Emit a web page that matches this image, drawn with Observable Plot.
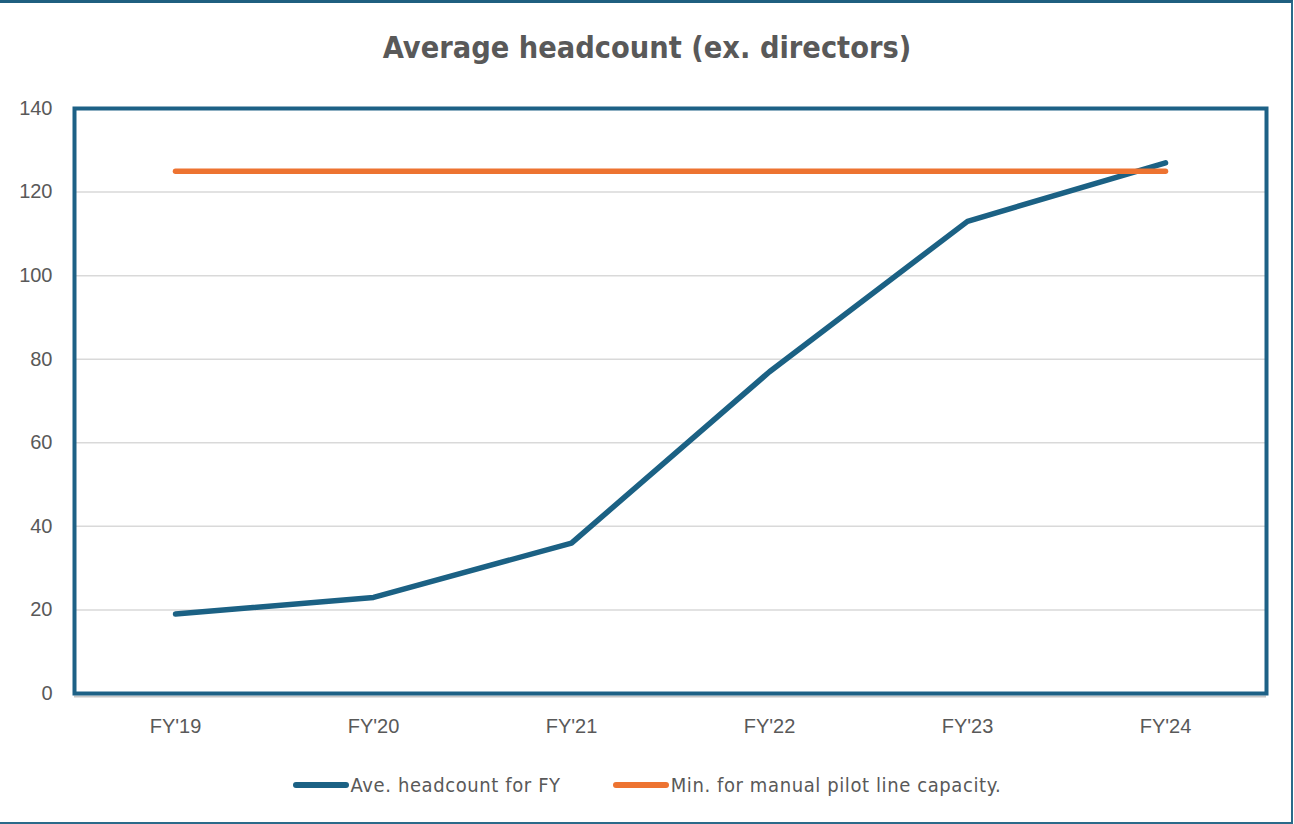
<!DOCTYPE html>
<html>
<head>
<meta charset="utf-8">
<script src="https://cdn.jsdelivr.net/npm/d3@7"></script>
<script src="https://cdn.jsdelivr.net/npm/@observablehq/plot@0.6"></script>
<style>
  html, body { margin: 0; padding: 0; background: #fff; }
  #page { position: relative; width: 1294px; height: 824px; overflow: hidden; background: #fff; }
  #border { position: absolute; left: 0; top: 0; width: 1291px; height: 819px;
            border-top: 3px solid #1f5f80; border-right: 2px solid #2a6a8a; border-bottom: 2px solid #2a6a8a; }
  #title { position: absolute; left: 0; top: 28px; width: 1294px; text-align: center;
           font-family: "DejaVu Sans Condensed", "Liberation Sans Narrow", "DejaVu Sans", sans-serif;
           font-stretch: condensed; font-weight: bold; font-size: 30.4px; color: #595959; line-height: 40px; }
  #chart { position: absolute; left: 0; top: 90px; }
  #legend { position: absolute; left: 0; top: 772px; width: 1294px; display: flex; justify-content: center;
            align-items: center; font-family: "DejaVu Sans Condensed", "Liberation Sans Narrow", "DejaVu Sans", sans-serif;
            font-stretch: condensed; font-size: 20px; letter-spacing: 0.6px; color: #595959; line-height: 26px; }
  .item { display: flex; align-items: center; }
  .swatch { width: 56px; height: 6px; border-radius: 3px; margin-right: 2px; }
  .gap { width: 52px; }
</style>
</head>
<body>
<div id="page">
  <div id="border"></div>
  <div id="title">Average headcount (ex. directors)</div>
  <div id="chart"></div>
  <div id="legend"></div>
</div>
<script>
const categories = ["FY'19", "FY'20", "FY'21", "FY'22", "FY'23", "FY'24"];
const headcount = [19, 23, 36, 77, 113, 127];
const minCapacity = [125, 125, 125, 125, 125, 125];
const yTicks = [0, 20, 40, 60, 80, 100, 120, 140];
const gridValues = [20, 40, 60, 80, 100, 120];
const seriesNames = ["Ave. headcount for FY", "Min. for manual pilot line capacity."];
const seriesColors = ["#1b6184", "#ed7331"];

const rows = categories.map((c, i) => ({category: c, headcount: headcount[i], minCapacity: minCapacity[i]}));

const chart = Plot.plot({
  width: 1294,
  height: 660,
  marginTop: 18,
  marginBottom: 57,
  marginLeft: 74,
  marginRight: 28,
  style: {fontFamily: "'Liberation Sans', Arial, sans-serif", fontSize: "20px", color: "#595959", background: "transparent"},
  x: {type: "point", domain: categories, padding: 0.5, label: null, tickSize: 0, tickPadding: 25},
  y: {domain: [0, 140], ticks: yTicks, label: null, tickSize: 0, tickPadding: 22},
  marks: [
    Plot.ruleY(gridValues, {stroke: "#d9d9d9", strokeWidth: 1.5}),
    Plot.ruleY([0], {stroke: "#c6c6c6", strokeWidth: 2, dy: 3}),
    Plot.frame({stroke: "#1d6186", strokeWidth: 4}),
    Plot.line(rows, {x: "category", y: "headcount", stroke: seriesColors[0], strokeWidth: 5.5, strokeLinecap: "round", strokeLinejoin: "round"}),
    Plot.line(rows, {x: "category", y: "minCapacity", stroke: seriesColors[1], strokeWidth: 5.5, strokeLinecap: "round", strokeLinejoin: "round"})
  ]
});
document.getElementById("chart").appendChild(chart);

const legend = document.getElementById("legend");
seriesNames.forEach((name, i) => {
  if (i > 0) { const g = document.createElement("div"); g.className = "gap"; legend.appendChild(g); }
  const item = document.createElement("div");
  item.className = "item";
  const sw = document.createElement("div");
  sw.className = "swatch";
  sw.style.background = seriesColors[i];
  const t = document.createElement("span");
  t.textContent = name;
  item.appendChild(sw);
  item.appendChild(t);
  legend.appendChild(item);
});
</script>
</body>
</html>
